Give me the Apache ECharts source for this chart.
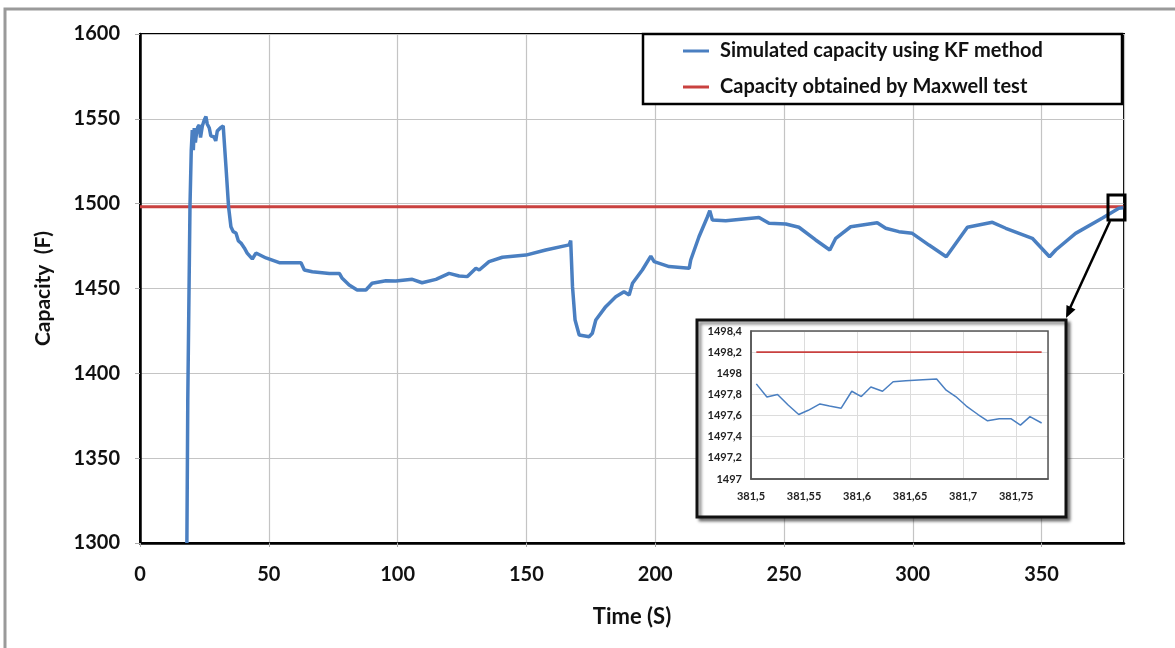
<!DOCTYPE html>
<html>
<head>
<meta charset="utf-8">
<script src="https://cdn.jsdelivr.net/npm/echarts@6/dist/echarts.min.js"></script>
<style>
  html, body { margin: 0; padding: 0; background: #fff; }
  #chart { width: 1175px; height: 648px; }
</style>
</head>
<body>
<div id="chart"></div>
<script>
// main curve: simulated capacity (KF)
const kfTime = [18.2, 18.55, 19.4, 19.9, 20.3, 20.7, 21.07, 21.5, 21.85, 22.4, 23.0, 23.5, 24.2, 24.95, 25.6, 26.1, 26.9, 27.5, 28.06,
  28.8, 29.4, 30.0, 31.16, 32.3,
  33.37, 34.38, 35.3, 36.2, 37.25, 38.2, 39.2, 40.5, 41.6, 43.6, 45.0, 48.9, 54.05, 62.5, 63.8, 66.9, 73.5, 77.4, 78.5, 81.2, 84.3, 87.7, 90.1,
  95.5, 99.3, 105.7, 109.5, 114.9, 120.0, 123.9, 127.1, 130.4, 131.7, 135.5, 140.7, 149.8, 157.5, 166.6, 167.2, 167.9, 168.9, 170.5,
  174.4, 175.6, 176.95, 180.8, 184.7, 187.9, 189.9, 191.2, 195.0, 198.3, 199.6, 205.4, 213.2, 213.8, 217.0, 220.3, 221.2, 222.2,
  227.4, 240.3, 244.2, 250.7, 255.8, 262.3, 267.8, 270.1, 275.9, 286.2, 289.5, 294.6, 299.8, 306.3, 313.0, 321.2, 330.9, 336.1,
  346.4, 353.1, 355.5, 363.2, 373.5, 380.0, 381.77];
const kfCapacity = [1300, 1384, 1498, 1531.6, 1543.4, 1531.6, 1544.6, 1536, 1540.5, 1545, 1546.4, 1539, 1545.8, 1549.3, 1551.3, 1547,
  1544.6, 1540, 1540.5, 1539.3, 1537, 1542.8, 1544.6, 1545.8,
  1521.8, 1498.2, 1486.4, 1483.5, 1482.7, 1478, 1476.8, 1473.9, 1470.9, 1467.4, 1470.9, 1468, 1465.2, 1465.2,
  1460.9, 1459.9, 1458.9, 1458.9, 1456, 1452, 1449.1, 1449.1, 1453.1, 1454.6, 1454.4, 1455.4, 1453.4, 1455.4, 1458.9, 1457.4, 1457,
  1461.9, 1460.9, 1465.8, 1468.4, 1469.7, 1472.7, 1475.7, 1478.2, 1451.1, 1431.4, 1422.6, 1421.6, 1423.6, 1431.4, 1439.3, 1445.2,
  1448.1, 1446.2, 1453.1, 1460.9, 1469.1, 1465.8, 1462.9, 1461.9, 1466.8, 1480.5, 1492.3, 1495.9, 1490.4, 1490, 1491.8, 1488.4,
  1488, 1486.1, 1478.6, 1472.7, 1479.6, 1486.4, 1488.8, 1485.5, 1483.5, 1482.5, 1475.6, 1468.7, 1486.1, 1489, 1485.5, 1479.6,
  1468.7, 1472.7, 1482.5, 1491.4, 1497.3, 1497.53];
const maxwellCapacity = 1498.2;
const mainTimeRange = [0, 382];

// zoomed window 381.5 .. 381.78 s
const insetTime = [381.505, 381.515, 381.525, 381.535, 381.545, 381.554, 381.565, 381.574, 381.585, 381.595, 381.604, 381.613,
  381.624, 381.634, 381.646, 381.662, 381.675, 381.684, 381.693, 381.703, 381.714, 381.723, 381.734, 381.745, 381.754, 381.763, 381.774];
const insetCapacity = [1497.90, 1497.775, 1497.80, 1497.70, 1497.61, 1497.65, 1497.71, 1497.69, 1497.67, 1497.83, 1497.78, 1497.87,
  1497.83, 1497.92, 1497.93, 1497.94, 1497.945, 1497.84, 1497.78, 1497.69, 1497.61, 1497.55, 1497.57, 1497.57, 1497.51, 1497.59, 1497.53];

const legendNames = ['Simulated capacity using KF method', 'Capacity obtained by Maxwell test'];

const blue = '#4a7fc1';
const red = '#c9413f';
const font = 'Lato';

const zip = (xs, ys) => xs.map((x, i) => [x, ys[i]]);
const comma = v => String(+(+v).toFixed(2)).replace('.', ',');
const plain = v => String(v);

const myChart = echarts.init(document.getElementById('chart'));

const option = {
  animation: false,
  backgroundColor: '#fff',
  textStyle: { fontFamily: font },
  grid: [
    { left: 140, top: 34, right: 51, bottom: 105, show: true, borderColor: '#000', borderWidth: 2, backgroundColor: 'transparent' },
    { left: 751, top: 331, right: 127, bottom: 169 }
  ],
  xAxis: [
    {
      gridIndex: 0, type: 'value', min: mainTimeRange[0], max: mainTimeRange[1], interval: 50,
      name: 'Time (S)', nameLocation: 'middle', nameGap: 63,
      nameTextStyle: { fontFamily: font, fontWeight: 'bold', fontSize: 22, color: '#111' },
      axisLine: { show: true, lineStyle: { color: '#000', width: 2.5 } },
      axisTick: { show: true, length: 4, lineStyle: { color: '#aaa' } },
      axisLabel: { fontFamily: font, fontWeight: 'bold', fontSize: 20, color: '#111', margin: 22, showMaxLabel: false, formatter: plain },
      splitLine: { show: true, lineStyle: { color: '#c4c4c4', width: 1.2 } }
    },
    {
      gridIndex: 1, type: 'value', min: 381.5, max: 381.78, interval: 0.05, z: 5,
      axisLine: { show: true, onZero: false, lineStyle: { color: '#555', width: 1.5 } },
      axisTick: { show: false },
      axisLabel: { fontFamily: font, fontWeight: 'bold', fontSize: 11, color: '#222', margin: 12, showMaxLabel: false, formatter: comma },
      splitLine: { show: true, lineStyle: { color: '#dcdcdc', width: 1 } }
    }
  ],
  yAxis: [
    {
      gridIndex: 0, type: 'value', min: 1300, max: 1600, interval: 50,
      name: 'Capacity  (F)', nameLocation: 'middle', nameGap: 86, nameRotate: 90,
      nameTextStyle: { fontFamily: font, fontWeight: 'bold', fontSize: 21, color: '#111' },
      axisLine: { show: true, lineStyle: { color: '#000', width: 2.5 } },
      axisTick: { show: true, length: 5, lineStyle: { color: '#aaa' } },
      axisLabel: { fontFamily: font, fontWeight: 'bold', fontSize: 20, color: '#111', margin: 20, formatter: plain },
      splitLine: { show: true, lineStyle: { color: '#c4c4c4', width: 1.2 } }
    },
    {
      gridIndex: 1, type: 'value', min: 1497, max: 1498.4, interval: 0.2, z: 5,
      axisLine: { show: true, onZero: false, lineStyle: { color: '#555', width: 1.5 } },
      axisTick: { show: false },
      axisLabel: { fontFamily: font, fontWeight: 'bold', fontSize: 11, color: '#222', margin: 9, formatter: comma },
      splitLine: { show: true, lineStyle: { color: '#dcdcdc', width: 1 } }
    }
  ],
  series: [
    {
      name: legendNames[0], type: 'line', xAxisIndex: 0, yAxisIndex: 0, showSymbol: false,
      lineStyle: { color: blue, width: 3.5 }, itemStyle: { color: blue },
      data: zip(kfTime, kfCapacity)
    },
    {
      name: legendNames[1], type: 'line', xAxisIndex: 0, yAxisIndex: 0, showSymbol: false, z: 1,
      lineStyle: { color: red, width: 3 }, itemStyle: { color: red },
      data: [[mainTimeRange[0], maxwellCapacity], [mainTimeRange[1], maxwellCapacity]]
    },
    {
      type: 'line', xAxisIndex: 1, yAxisIndex: 1, showSymbol: false, z: 6,
      lineStyle: { color: red, width: 1.8 },
      data: [[insetTime[0], maxwellCapacity], [insetTime[insetTime.length - 1], maxwellCapacity]]
    },
    {
      type: 'line', xAxisIndex: 1, yAxisIndex: 1, showSymbol: false, z: 6,
      lineStyle: { color: blue, width: 1.5 },
      data: zip(insetTime, insetCapacity)
    }
  ],
  graphic: [
    // outer frame of the figure
    { type: 'rect', z: 0, shape: { x: 5, y: 9, width: 1200, height: 700 }, style: { fill: 'none', stroke: '#9a9a9a', lineWidth: 3 } },
    // legend box
    { type: 'rect', z: 10, shape: { x: 643, y: 34, width: 479, height: 70 }, style: { fill: '#fff', stroke: '#000', lineWidth: 2.5 } },
    { type: 'line', z: 11, shape: { x1: 683, y1: 51, x2: 709, y2: 51 }, style: { stroke: blue, lineWidth: 3 } },
    { type: 'text', z: 11, x: 720, y: 51, style: { text: legendNames[0], font: 'bold 20px Lato', fill: '#111', verticalAlign: 'middle' } },
    { type: 'line', z: 11, shape: { x1: 683, y1: 87, x2: 709, y2: 87 }, style: { stroke: red, lineWidth: 3 } },
    { type: 'text', z: 11, x: 720, y: 87, style: { text: legendNames[1], font: 'bold 20px Lato', fill: '#111', verticalAlign: 'middle' } },
    // zoom window marker and arrow
    { type: 'rect', z: 10, shape: { x: 1108, y: 195, width: 17, height: 25 }, style: { fill: 'none', stroke: '#000', lineWidth: 3 } },
    { type: 'line', z: 10, shape: { x1: 1110, y1: 221, x2: 1070, y2: 308 }, style: { stroke: '#000', lineWidth: 2.5 } },
    { type: 'polygon', z: 10, shape: { points: [[1066, 318], [1075.5, 309.5], [1066.5, 305]] }, style: { fill: '#000' } },
    // inset box
    { type: 'rect', z: 1, shape: { x: 697, y: 320, width: 369, height: 197 },
      style: { fill: '#fff', stroke: '#111', lineWidth: 3, shadowColor: 'rgba(0,0,0,0.45)', shadowOffsetX: 3, shadowOffsetY: 3, shadowBlur: 3 } },
    { type: 'rect', z: 7, shape: { x: 751, y: 331, width: 297, height: 148 }, style: { fill: 'none', stroke: '#555', lineWidth: 1.5 } }
  ]
};

option && myChart.setOption(option);
</script>
</body>
</html>
